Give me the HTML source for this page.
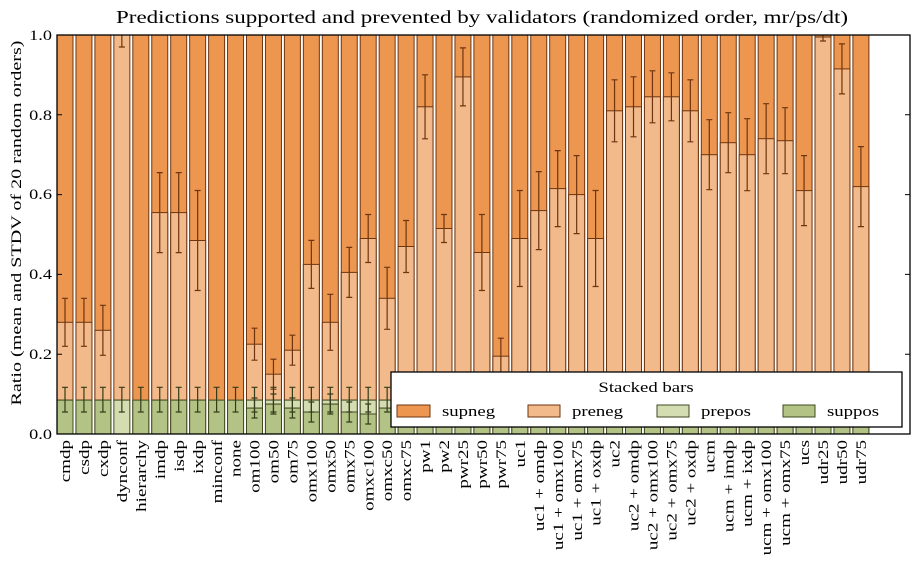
<!DOCTYPE html>
<html><head><meta charset="utf-8"><style>
html,body{margin:0;padding:0;background:#fff}
svg{display:block;font-family:"Liberation Serif",serif}
.a{fill:#ec9650;stroke:#6e3510;stroke-width:1}
.b{fill:#f2b98a;stroke:#6e3510;stroke-width:1}
.c{fill:#d4dcb2;stroke:#3f4a20;stroke-width:1}
.d{fill:#b3c385;stroke:#3f4a20;stroke-width:1}
.e{stroke:#6e3510;stroke-width:1.2;fill:none}
.g{stroke:#333d18;stroke-width:1.2;fill:none}
</style></head><body>
<svg width="919" height="562" viewBox="0 0 919 562" xmlns="http://www.w3.org/2000/svg">
<defs>
<path id="ge" class="g" d="M8 387.3V412M5 387.3H11M5 412H11"/>
</defs>
<rect x="0" y="0" width="919" height="562" fill="#fff"/>
<text x="482" y="23" font-size="18" text-anchor="middle" textLength="732" lengthAdjust="spacingAndGlyphs">Predictions supported and prevented by validators (randomized order, mr/ps/dt)</text>
<text transform="translate(21,223) rotate(-90)" font-size="15" text-anchor="middle" textLength="365" lengthAdjust="spacingAndGlyphs">Ratio (mean and STDV of 20 random orders)</text>

<g transform="translate(57,0)"><rect class="a" y="35" width="16" height="399"/><rect class="b" y="322.3" width="16" height="77.8"/><rect class="d" y="400.1" width="16" height="33.9"/><path class="e" d="M8 298.3V346.3M5 298.3H11M5 346.3H11"/><use href="#ge"/></g>
<g transform="translate(75.95,0)"><rect class="a" y="35" width="16" height="399"/><rect class="b" y="322.3" width="16" height="77.8"/><rect class="d" y="400.1" width="16" height="33.9"/><path class="e" d="M8 298.3V346.3M5 298.3H11M5 346.3H11"/><use href="#ge"/></g>
<g transform="translate(94.9,0)"><rect class="a" y="35" width="16" height="399"/><rect class="b" y="330.3" width="16" height="69.8"/><rect class="d" y="400.1" width="16" height="33.9"/><path class="e" d="M8 305.3V355.3M5 305.3H11M5 355.3H11"/><use href="#ge"/></g>
<g transform="translate(113.85,0)"><rect class="b" y="35" width="16" height="365.1"/><rect class="c" y="400.1" width="16" height="33.9"/><path class="e" d="M8 35V47M5 47H11"/><use href="#ge"/></g>
<g transform="translate(132.8,0)"><rect class="a" y="35" width="16" height="399"/><rect class="d" y="400.1" width="16" height="33.9"/><use href="#ge"/></g>
<g transform="translate(151.75,0)"><rect class="a" y="35" width="16" height="399"/><rect class="b" y="212.6" width="16" height="187.5"/><rect class="d" y="400.1" width="16" height="33.9"/><path class="e" d="M8 172.6V252.6M5 172.6H11M5 252.6H11"/><use href="#ge"/></g>
<g transform="translate(170.7,0)"><rect class="a" y="35" width="16" height="399"/><rect class="b" y="212.6" width="16" height="187.5"/><rect class="d" y="400.1" width="16" height="33.9"/><path class="e" d="M8 172.6V252.6M5 172.6H11M5 252.6H11"/><use href="#ge"/></g>
<g transform="translate(189.65,0)"><rect class="a" y="35" width="16" height="399"/><rect class="b" y="240.5" width="16" height="159.6"/><rect class="d" y="400.1" width="16" height="33.9"/><path class="e" d="M8 190.5V290.5M5 190.5H11M5 290.5H11"/><use href="#ge"/></g>
<g transform="translate(208.6,0)"><rect class="a" y="35" width="16" height="399"/><rect class="d" y="400.1" width="16" height="33.9"/><use href="#ge"/></g>
<g transform="translate(227.55,0)"><rect class="a" y="35" width="16" height="399"/><rect class="d" y="400.1" width="16" height="33.9"/><use href="#ge"/></g>
<g transform="translate(246.5,0)"><rect class="a" y="35" width="16" height="399"/><rect class="b" y="344.2" width="16" height="55.9"/><rect class="c" y="400.1" width="16" height="8"/><rect class="d" y="408.1" width="16" height="25.9"/><path class="e" d="M8 328.2V360.2M5 328.2H11M5 360.2H11"/><use href="#ge"/><path class="g" d="M8 398V418M5 398H11M5 418H11"/></g>
<g transform="translate(265.45,0)"><rect class="a" y="35" width="16" height="399"/><rect class="b" y="374.2" width="16" height="25.9"/><rect class="c" y="400.1" width="16" height="4"/><rect class="d" y="404.1" width="16" height="29.9"/><path class="e" d="M8 359.2V389.2M5 359.2H11M5 389.2H11"/><use href="#ge"/><path class="g" d="M8 394V414M5 394H11M5 414H11"/></g>
<g transform="translate(284.4,0)"><rect class="a" y="35" width="16" height="399"/><rect class="b" y="350.2" width="16" height="49.9"/><rect class="c" y="400.1" width="16" height="8"/><rect class="d" y="408.1" width="16" height="25.9"/><path class="e" d="M8 335.2V365.2M5 335.2H11M5 365.2H11"/><use href="#ge"/><path class="g" d="M8 398V418M5 398H11M5 418H11"/></g>
<g transform="translate(303.35,0)"><rect class="a" y="35" width="16" height="399"/><rect class="b" y="264.4" width="16" height="135.7"/><rect class="c" y="400.1" width="16" height="11.9"/><rect class="d" y="412" width="16" height="22"/><path class="e" d="M8 240.4V288.4M5 240.4H11M5 288.4H11"/><use href="#ge"/><path class="g" d="M8 402V422M5 402H11M5 422H11"/></g>
<g transform="translate(322.3,0)"><rect class="a" y="35" width="16" height="399"/><rect class="b" y="322.3" width="16" height="77.8"/><rect class="c" y="400.1" width="16" height="4"/><rect class="d" y="404.1" width="16" height="29.9"/><path class="e" d="M8 294.3V350.3M5 294.3H11M5 350.3H11"/><use href="#ge"/><path class="g" d="M8 394V414M5 394H11M5 414H11"/></g>
<g transform="translate(341.25,0)"><rect class="a" y="35" width="16" height="399"/><rect class="b" y="272.4" width="16" height="127.7"/><rect class="c" y="400.1" width="16" height="11.9"/><rect class="d" y="412" width="16" height="22"/><path class="e" d="M8 247.4V297.4M5 247.4H11M5 297.4H11"/><use href="#ge"/><path class="g" d="M8 402V422M5 402H11M5 422H11"/></g>
<g transform="translate(360.2,0)"><rect class="a" y="35" width="16" height="399"/><rect class="b" y="238.5" width="16" height="161.6"/><rect class="c" y="400.1" width="16" height="13.9"/><rect class="d" y="414" width="16" height="20"/><path class="e" d="M8 214.5V262.5M5 214.5H11M5 262.5H11"/><use href="#ge"/><path class="g" d="M8 404V424M5 404H11M5 424H11"/></g>
<g transform="translate(379.15,0)"><rect class="a" y="35" width="16" height="399"/><rect class="b" y="298.3" width="16" height="101.8"/><rect class="c" y="400.1" width="16" height="8"/><rect class="d" y="408.1" width="16" height="25.9"/><path class="e" d="M8 267.3V329.3M5 267.3H11M5 329.3H11"/><use href="#ge"/></g>
<g transform="translate(398.1,0)"><rect class="a" y="35" width="16" height="399"/><rect class="b" y="246.5" width="16" height="153.6"/><rect class="d" y="400.1" width="16" height="33.9"/><path class="e" d="M8 220.5V272.5M5 220.5H11M5 272.5H11"/><use href="#ge"/></g>
<g transform="translate(417.05,0)"><rect class="a" y="35" width="16" height="399"/><rect class="b" y="106.8" width="16" height="293.3"/><rect class="d" y="400.1" width="16" height="33.9"/><path class="e" d="M8 74.8V138.8M5 74.8H11M5 138.8H11"/></g>
<g transform="translate(436,0)"><rect class="a" y="35" width="16" height="399"/><rect class="b" y="228.5" width="16" height="171.6"/><rect class="d" y="400.1" width="16" height="33.9"/><path class="e" d="M8 214.5V242.5M5 214.5H11M5 242.5H11"/></g>
<g transform="translate(454.95,0)"><rect class="a" y="35" width="16" height="399"/><rect class="b" y="76.9" width="16" height="323.2"/><rect class="d" y="400.1" width="16" height="33.9"/><path class="e" d="M8 47.9V105.9M5 47.9H11M5 105.9H11"/></g>
<g transform="translate(473.9,0)"><rect class="a" y="35" width="16" height="399"/><rect class="b" y="252.5" width="16" height="147.6"/><rect class="d" y="400.1" width="16" height="33.9"/><path class="e" d="M8 214.5V290.5M5 214.5H11M5 290.5H11"/></g>
<g transform="translate(492.85,0)"><rect class="a" y="35" width="16" height="399"/><rect class="b" y="356.2" width="16" height="43.9"/><rect class="d" y="400.1" width="16" height="33.9"/><path class="e" d="M8 338.2V374.2M5 338.2H11M5 374.2H11"/></g>
<g transform="translate(511.8,0)"><rect class="a" y="35" width="16" height="399"/><rect class="b" y="238.5" width="16" height="161.6"/><rect class="d" y="400.1" width="16" height="33.9"/><path class="e" d="M8 190.5V286.5M5 190.5H11M5 286.5H11"/></g>
<g transform="translate(530.75,0)"><rect class="a" y="35" width="16" height="399"/><rect class="b" y="210.6" width="16" height="189.5"/><rect class="d" y="400.1" width="16" height="33.9"/><path class="e" d="M8 171.6V249.6M5 171.6H11M5 249.6H11"/></g>
<g transform="translate(549.7,0)"><rect class="a" y="35" width="16" height="399"/><rect class="b" y="188.6" width="16" height="211.5"/><rect class="d" y="400.1" width="16" height="33.9"/><path class="e" d="M8 150.6V226.6M5 150.6H11M5 226.6H11"/></g>
<g transform="translate(568.65,0)"><rect class="a" y="35" width="16" height="399"/><rect class="b" y="194.6" width="16" height="205.5"/><rect class="d" y="400.1" width="16" height="33.9"/><path class="e" d="M8 155.6V233.6M5 155.6H11M5 233.6H11"/></g>
<g transform="translate(587.6,0)"><rect class="a" y="35" width="16" height="399"/><rect class="b" y="238.5" width="16" height="161.6"/><rect class="d" y="400.1" width="16" height="33.9"/><path class="e" d="M8 190.5V286.5M5 190.5H11M5 286.5H11"/></g>
<g transform="translate(606.55,0)"><rect class="a" y="35" width="16" height="399"/><rect class="b" y="110.8" width="16" height="289.3"/><rect class="d" y="400.1" width="16" height="33.9"/><path class="e" d="M8 79.8V141.8M5 79.8H11M5 141.8H11"/></g>
<g transform="translate(625.5,0)"><rect class="a" y="35" width="16" height="399"/><rect class="b" y="106.8" width="16" height="293.3"/><rect class="d" y="400.1" width="16" height="33.9"/><path class="e" d="M8 76.8V136.8M5 76.8H11M5 136.8H11"/></g>
<g transform="translate(644.45,0)"><rect class="a" y="35" width="16" height="399"/><rect class="b" y="96.8" width="16" height="303.3"/><rect class="d" y="400.1" width="16" height="33.9"/><path class="e" d="M8 70.8V122.8M5 70.8H11M5 122.8H11"/></g>
<g transform="translate(663.4,0)"><rect class="a" y="35" width="16" height="399"/><rect class="b" y="96.8" width="16" height="303.3"/><rect class="d" y="400.1" width="16" height="33.9"/><path class="e" d="M8 72.8V120.8M5 72.8H11M5 120.8H11"/></g>
<g transform="translate(682.35,0)"><rect class="a" y="35" width="16" height="399"/><rect class="b" y="110.8" width="16" height="289.3"/><rect class="d" y="400.1" width="16" height="33.9"/><path class="e" d="M8 79.8V141.8M5 79.8H11M5 141.8H11"/></g>
<g transform="translate(701.3,0)"><rect class="a" y="35" width="16" height="399"/><rect class="b" y="154.7" width="16" height="245.4"/><rect class="d" y="400.1" width="16" height="33.9"/><path class="e" d="M8 119.7V189.7M5 119.7H11M5 189.7H11"/></g>
<g transform="translate(720.25,0)"><rect class="a" y="35" width="16" height="399"/><rect class="b" y="142.7" width="16" height="257.4"/><rect class="d" y="400.1" width="16" height="33.9"/><path class="e" d="M8 112.7V172.7M5 112.7H11M5 172.7H11"/></g>
<g transform="translate(739.2,0)"><rect class="a" y="35" width="16" height="399"/><rect class="b" y="154.7" width="16" height="245.4"/><rect class="d" y="400.1" width="16" height="33.9"/><path class="e" d="M8 118.7V190.7M5 118.7H11M5 190.7H11"/></g>
<g transform="translate(758.15,0)"><rect class="a" y="35" width="16" height="399"/><rect class="b" y="138.7" width="16" height="261.4"/><rect class="d" y="400.1" width="16" height="33.9"/><path class="e" d="M8 103.7V173.7M5 103.7H11M5 173.7H11"/></g>
<g transform="translate(777.1,0)"><rect class="a" y="35" width="16" height="399"/><rect class="b" y="140.7" width="16" height="259.4"/><rect class="d" y="400.1" width="16" height="33.9"/><path class="e" d="M8 107.7V173.7M5 107.7H11M5 173.7H11"/></g>
<g transform="translate(796.05,0)"><rect class="a" y="35" width="16" height="399"/><rect class="b" y="190.6" width="16" height="209.5"/><rect class="d" y="400.1" width="16" height="33.9"/><path class="e" d="M8 155.6V225.6M5 155.6H11M5 225.6H11"/></g>
<g transform="translate(815,0)"><rect class="a" y="35" width="16" height="399"/><rect class="b" y="37" width="16" height="363.1"/><rect class="d" y="400.1" width="16" height="33.9"/><path class="e" d="M8 35V41M5 41H11"/></g>
<g transform="translate(833.95,0)"><rect class="a" y="35" width="16" height="399"/><rect class="b" y="68.9" width="16" height="331.2"/><rect class="d" y="400.1" width="16" height="33.9"/><path class="e" d="M8 43.9V93.9M5 43.9H11M5 93.9H11"/></g>
<g transform="translate(852.9,0)"><rect class="a" y="35" width="16" height="399"/><rect class="b" y="186.6" width="16" height="213.5"/><rect class="d" y="400.1" width="16" height="33.9"/><path class="e" d="M8 146.6V226.6M5 146.6H11M5 226.6H11"/></g>

<!-- axes -->
<rect x="57" y="35" width="853" height="399" fill="none" stroke="#000" stroke-width="1.3"/>
<path stroke="#000" stroke-width="1" d="M57 434h5M57 354.2h5M57 274.4h5M57 194.6h5M57 114.8h5M57 35h5M910 434h-5M910 354.2h-5M910 274.4h-5M910 194.6h-5M910 114.8h-5M910 35h-5"/>
<g font-size="15" text-anchor="end">
<text transform="translate(52,439) scale(1.22,1)">0.0</text><text transform="translate(52,359) scale(1.22,1)">0.2</text><text transform="translate(52,279) scale(1.22,1)">0.4</text><text transform="translate(52,199) scale(1.22,1)">0.6</text><text transform="translate(52,120) scale(1.22,1)">0.8</text><text transform="translate(52,40) scale(1.22,1)">1.0</text>
</g>

<!-- legend -->
<rect x="391" y="372" width="511" height="55" fill="#fff" stroke="#000" stroke-width="1.3"/>
<text transform="translate(646,392) scale(1.25,1)" font-size="15" text-anchor="middle">Stacked bars</text>
<rect class="a" x="397" y="405" width="33" height="12"/><text transform="translate(442,416) scale(1.25,1)" font-size="15">supneg</text>
<rect class="b" x="528" y="405" width="32" height="12"/><text transform="translate(572,416) scale(1.25,1)" font-size="15">preneg</text>
<rect class="c" x="657" y="405" width="32" height="12"/><text transform="translate(701,416) scale(1.25,1)" font-size="15">prepos</text>
<rect class="d" x="783" y="405" width="32" height="12"/><text transform="translate(827,416) scale(1.25,1)" font-size="15">suppos</text>

<!-- x labels -->
<g font-size="15" text-anchor="end">
<text transform="translate(70,440) rotate(-90) scale(1.27,1)">cmdp</text>
<text transform="translate(89,440) rotate(-90) scale(1.27,1)">csdp</text>
<text transform="translate(108,440) rotate(-90) scale(1.27,1)">cxdp</text>
<text transform="translate(127,440) rotate(-90) scale(1.27,1)">dynconf</text>
<text transform="translate(146,440) rotate(-90) scale(1.27,1)">hierarchy</text>
<text transform="translate(165,440) rotate(-90) scale(1.27,1)">imdp</text>
<text transform="translate(184,440) rotate(-90) scale(1.27,1)">isdp</text>
<text transform="translate(203,440) rotate(-90) scale(1.27,1)">ixdp</text>
<text transform="translate(222,440) rotate(-90) scale(1.27,1)">minconf</text>
<text transform="translate(240.5,440) rotate(-90) scale(1.27,1)">none</text>
<text transform="translate(259.5,440) rotate(-90) scale(1.27,1)">om100</text>
<text transform="translate(278.5,440) rotate(-90) scale(1.27,1)">om50</text>
<text transform="translate(297.5,440) rotate(-90) scale(1.27,1)">om75</text>
<text transform="translate(316.5,440) rotate(-90) scale(1.27,1)">omx100</text>
<text transform="translate(335.5,440) rotate(-90) scale(1.27,1)">omx50</text>
<text transform="translate(354.5,440) rotate(-90) scale(1.27,1)">omx75</text>
<text transform="translate(373.5,440) rotate(-90) scale(1.27,1)">omxc100</text>
<text transform="translate(392,440) rotate(-90) scale(1.27,1)">omxc50</text>
<text transform="translate(411,440) rotate(-90) scale(1.27,1)">omxc75</text>
<text transform="translate(430,440) rotate(-90) scale(1.27,1)">pw1</text>
<text transform="translate(449,440) rotate(-90) scale(1.27,1)">pw2</text>
<text transform="translate(468,440) rotate(-90) scale(1.27,1)">pwr25</text>
<text transform="translate(487,440) rotate(-90) scale(1.27,1)">pwr50</text>
<text transform="translate(506,440) rotate(-90) scale(1.27,1)">pwr75</text>
<text transform="translate(525,440) rotate(-90) scale(1.27,1)">uc1</text>
<text transform="translate(544,440) rotate(-90) scale(1.27,1)">uc1 + omdp</text>
<text transform="translate(563,440) rotate(-90) scale(1.27,1)">uc1 + omx100</text>
<text transform="translate(582,440) rotate(-90) scale(1.27,1)">uc1 + omx75</text>
<text transform="translate(600.5,440) rotate(-90) scale(1.27,1)">uc1 + oxdp</text>
<text transform="translate(619.5,440) rotate(-90) scale(1.27,1)">uc2</text>
<text transform="translate(638.5,440) rotate(-90) scale(1.27,1)">uc2 + omdp</text>
<text transform="translate(657.5,440) rotate(-90) scale(1.27,1)">uc2 + omx100</text>
<text transform="translate(676.5,440) rotate(-90) scale(1.27,1)">uc2 + omx75</text>
<text transform="translate(695.5,440) rotate(-90) scale(1.27,1)">uc2 + oxdp</text>
<text transform="translate(714.5,440) rotate(-90) scale(1.27,1)">ucm</text>
<text transform="translate(733.5,440) rotate(-90) scale(1.27,1)">ucm + imdp</text>
<text transform="translate(752,440) rotate(-90) scale(1.27,1)">ucm + ixdp</text>
<text transform="translate(771,440) rotate(-90) scale(1.27,1)">ucm + omx100</text>
<text transform="translate(790,440) rotate(-90) scale(1.27,1)">ucm + omx75</text>
<text transform="translate(809,440) rotate(-90) scale(1.27,1)">ucs</text>
<text transform="translate(828,440) rotate(-90) scale(1.27,1)">udr25</text>
<text transform="translate(847,440) rotate(-90) scale(1.27,1)">udr50</text>
<text transform="translate(866,440) rotate(-90) scale(1.27,1)">udr75</text>
</g>
</svg>
</body></html>
